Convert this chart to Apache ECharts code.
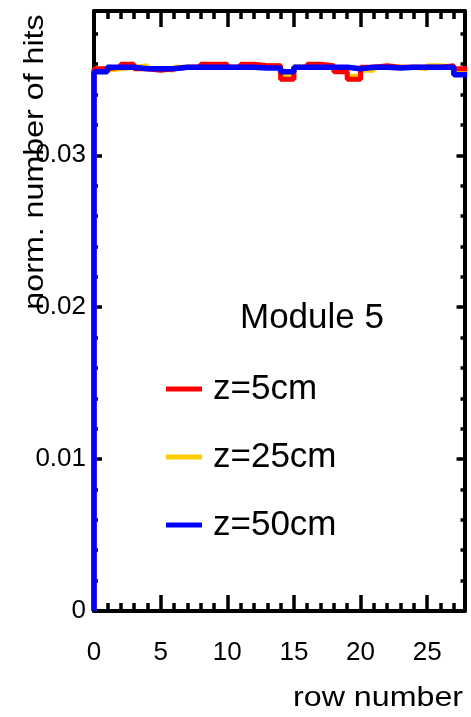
<!DOCTYPE html>
<html>
<head>
<meta charset="utf-8">
<script src="https://cdn.jsdelivr.net/npm/echarts@6/dist/echarts.min.js"></script>
<style>
html,body{margin:0;padding:0;background:#fff;}
#c{width:471px;height:717px;}
</style>
</head>
<body>
<div id="c"></div>
<script>
// ---- data ----
const rowStarts = [0,1,2,3,4,5,6,7,8,9,10,11,12,13,14,15,16,17,18,19,20,21,22,23,24,25,26,27];
const lastRowEnd = 28;
const z5cm  = [0.0357,0.0358,0.0360,0.0357,0.0356,0.0357,0.0358,0.0358,0.0360,0.0360,0.0358,0.0360,0.0359,0.0359,
               0.0350,0.0358,0.0360,0.0359,0.0355,0.0350,0.0358,0.0359,0.0358,0.0358,0.0358,0.0358,0.0359,0.0357];
const z25cm = [0.0356,0.0357,0.0358,0.0359,0.0357,0.0356,0.0358,0.0358,0.0358,0.0358,0.0358,0.0358,0.0359,0.0359,
               0.0353,0.0358,0.0358,0.0358,0.0357,0.0352,0.0356,0.0358,0.0358,0.0358,0.0357,0.0359,0.0358,0.0356];
const z50cm = [0.0355,0.0358,0.0358,0.0357,0.0357,0.0357,0.0358,0.0358,0.0358,0.0358,0.0358,0.0358,0.03575,0.03575,
               0.0355,0.0358,0.0358,0.0358,0.0358,0.0357,0.0358,0.0358,0.03575,0.0358,0.0358,0.0358,0.0358,0.0353];
const seriesNames = ['z=5cm','z=25cm','z=50cm'];
const xTickLabels = ['0','5','10','15','20','25'];
const yTickLabels = ['0','0.01','0.02','0.03'];

const F = 'Liberation Sans';
const BLACK = '#000';

function steps(vals){
  const pts = [[rowStarts[0], 0]];
  vals.forEach((v,i)=>pts.push([rowStarts[i], v]));
  pts.push([lastRowEnd, vals[vals.length-1]]);
  return pts;
}

function xAx(pos, interval, len, main){
  return {
    type:'value', position:pos, min:0, max:27.8, interval:interval,
    axisLine:{show:main, onZero:false, lineStyle:{color:BLACK, width:4}},
    axisTick:{show:true, inside:true, length:len, lineStyle:{color:BLACK, width:3.5}},
    axisLabel:{show: main && pos==='bottom', margin:29, fontSize:26, fontFamily:F, color:BLACK,
      formatter:function(v){ const k=Math.round(v/5); return Math.abs(v-5*k)<1e-6 && xTickLabels[k]!==undefined ? xTickLabels[k] : ''; }},
    splitLine:{show:false}
  };
}
function yAx(pos, interval, len, main){
  return {
    type:'value', position:pos, min:0, max:0.0395, interval:interval,
    axisLine:{show:main, onZero:false, lineStyle:{color:BLACK, width:4}},
    axisTick:{show:true, inside:true, length:len, lineStyle:{color:BLACK, width:3.5}},
    axisLabel:{show: main && pos==='left', margin:8, fontSize:26, fontFamily:F, color:BLACK,
      formatter:function(v){ const k=Math.round(v*100); return Math.abs(v*100-k)<1e-6 && yTickLabels[k]!==undefined ? yTickLabels[k] : ''; }},
    splitLine:{show:false}
  };
}

const chart = echarts.init(document.getElementById('c'), null, {renderer:'canvas'});
const colors = {'z=5cm':'#ff0000','z=25cm':'#ffcc00','z=50cm':'#0000ff'};
const dataMap = {'z=5cm':z5cm,'z=25cm':z25cm,'z=50cm':z50cm};
const drawOrder = ['z=25cm','z=5cm','z=50cm'];
const widths = {'z=5cm':5,'z=25cm':5,'z=50cm':5.5};

chart.setOption({
  animation:false,
  backgroundColor:'#fff',
  grid:{left:94, right:6.5, top:11, bottom:106, containLabel:false, outerBoundsMode:'none'},
  xAxis:[ xAx('bottom',5,16,true), xAx('bottom',1,8,false), xAx('top',5,16,true), xAx('top',1,8,false) ],
  yAxis:[ yAx('left',0.01,8,true), yAx('left',0.002,4,false), yAx('right',0.01,8,true), yAx('right',0.002,4,false) ],
  legend:{
    data:seriesNames, orient:'vertical', left:166, top:367, padding:0,
    itemWidth:36, itemHeight:5, itemGap:24, icon:'rect', selectedMode:false,
    textStyle:{fontSize:35, lineHeight:34, fontFamily:F, color:BLACK, padding:[10,0,0,6]}
  },
  graphic:[
    {type:'text', x:35, y:162, rotation:Math.PI/2, scaleX:1.15,
     style:{text:'norm. number of hits', font:'28px "Liberation Sans"', fill:BLACK, textAlign:'center', verticalAlign:'middle'}},
    {type:'text', x:293, y:698, scaleX:1.15,
     style:{text:'row number', font:'28px "Liberation Sans"', fill:BLACK, textAlign:'left', verticalAlign:'middle'}},
    {type:'text', x:240, y:318,
     style:{text:'Module 5', font:'35px "Liberation Sans"', fill:BLACK, textAlign:'left', verticalAlign:'middle'}}
  ],
  series: drawOrder.map(n=>({
    name:n, type:'line', step:'end', symbol:'none', clip:false,
    xAxisIndex:0, yAxisIndex:0,
    color:colors[n],
    itemStyle:{color:colors[n]},
    lineStyle:{color:colors[n], width:widths[n]},
    data:steps(dataMap[n])
  }))
});
</script>
</body>
</html>
